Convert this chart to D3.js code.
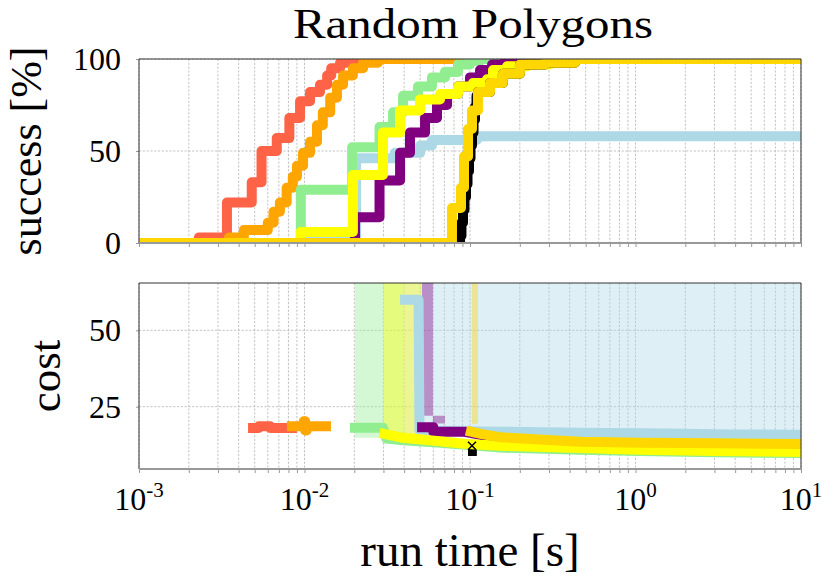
<!DOCTYPE html>
<html>
<head>
<meta charset="utf-8">
<script src="https://cdn.jsdelivr.net/npm/d3@7"></script>
<style>
	body { margin: 0; background: #fff; }
</style>
</head>
<body>
<div id="chart"></div>
<script>
/*
Random Polygons: success rate and solution cost over run time
*/

// ---------- success [%] over run time (top panel) ----------
const lightblueTime    = [0.001, 0.0098, 0.0205, 0.0352, 0.0500, 0.0589, 0.110, 10];
const lightblueSuccess = [0, 2, 46, 49, 53, 56, 58, 58];

const tomatoTime    = [0.001, 0.0023, 0.0034, 0.0048, 0.0055, 0.0068, 0.0081, 0.0094, 0.0108, 0.0124, 0.0137, 0.0145, 0.0164, 0.0181, 10];
const tomatoSuccess = [0, 3, 22, 33, 50, 57, 68, 77, 82, 86, 91, 95, 98, 100, 100];

const orangeTime    = [0.001, 0.0035, 0.0043, 0.0060, 0.0065, 0.0071, 0.0078, 0.0085, 0.0090, 0.0098, 0.0108, 0.0119, 0.0129, 0.0143, 0.0157, 0.0171, 0.0196, 0.0226, 0.0278, 10];
const orangeSuccess = [0, 3, 7, 11, 17, 22, 30, 36, 42, 49, 55, 64, 71, 79, 86, 91, 95, 98, 100, 100];

const lightgreenTime    = [0.001, 0.0095, 0.0194, 0.0284, 0.0343, 0.0394, 0.0485, 0.0589, 0.0706, 0.0846, 0.100, 0.115, 10];
const lightgreenSuccess = [0, 29, 52, 63, 71, 80, 85, 90, 93, 97, 99, 100, 100];

const purpleTime    = [0.001, 0.0202, 0.0284, 0.0378, 0.0434, 0.0535, 0.0632, 0.0727, 0.0846, 0.100, 0.115, 0.136, 0.1625, 10];
const purpleSuccess = [0, 14, 34, 49, 60, 68, 75, 81, 85, 90, 94, 97, 100, 100];

const yellowTime    = [0.001, 0.0095, 0.0196, 0.0298, 0.0378, 0.0499, 0.0659, 0.0846, 0.1042, 0.1267, 0.1377, 0.1675, 0.2209, 0.304, 0.430, 10];
const yellowSuccess = [0, 6, 37, 60, 72, 78, 81, 85, 87, 89, 94, 96, 97, 98, 100, 100];

const blackTime    = [0.001, 0.0871, 0.0888, 0.0907, 0.0926, 0.0946, 0.0966, 0.0986, 0.1007, 0.1028, 0.1050, 0.1072, 0.1095, 0.1117, 0.1321, 0.158, 0.2003, 0.2838, 0.4305, 10];
const blackSuccess = [0, 4, 11, 18, 25, 32, 39, 46, 53, 60, 67, 74, 80, 82, 87, 92, 97, 98, 100, 100];

const goldTime    = [0.001, 0.0778, 0.0882, 0.0920, 0.0973, 0.1028, 0.1117, 0.1321, 0.158, 0.2003, 0.2838, 0.4305, 10];
const goldSuccess = [0, 19, 30, 47, 62, 72, 82, 87, 92, 97, 98, 100, 100];

// ---------- median cost over run time (bottom panel) ----------
const tomatoCostTime = [0.00456, 0.0053, 0.0053, 0.0062, 0.0062, 0.0090];
const tomatoCost     = [18, 18, 18.6, 18.6, 18, 18];

const orangeCostTime = [0.00783, 0.0099, 0.0099, 0.0101, 0.0101, 0.0103, 0.0103, 0.01445];
const orangeCost     = [18.6, 18.6, 20.2, 20.2, 17.2, 17.2, 18.6, 18.6];

const lightgreenCostTime = [0.0188, 0.0298, 0.0312, 0.0394, 0.0632, 0.1518, 0.462, 1.065, 3.0, 10];
const lightgreenCost     = [18.1, 18.1, 14.6, 14.0, 13.3, 11.6, 10.9, 10.5, 10.1, 9.8];

const lightblueCostTime = [0.0378, 0.0489, 0.0495, 0.0632, 0.15, 0.462, 1.5, 4, 10];
const lightblueCost     = [60, 60, 17.5, 17.1, 16.8, 16.5, 16.2, 15.9, 15.8];

const purpleCostTime = [0.0479, 0.0600, 0.0600, 0.0930, 0.15, 0.462, 1.5, 10];
const purpleCost     = [18.3, 18.3, 16.8, 16.8, 14.6, 13.2, 12.9, 12.5];

const yellowCostTime = [0.0284, 0.0394, 0.0632, 0.0957, 0.1518, 0.462, 1.065, 3.0, 10];
const yellowCost     = [16.4, 14.8, 13.8, 12.8, 12.2, 11.5, 10.9, 10.5, 10.2];

const blackCostTime = [0.0973, 0.110];
const blackCost     = [10.5, 10.5];
const blackMarker   = [0.1028, 12.2];

const goldCostTime = [0.0946, 0.1182, 0.1518, 0.462, 1.065, 3.0, 10];
const goldCost     = [17.2, 16.0, 15.0, 13.5, 13.2, 13.0, 12.8];

// cost spread (shaded bands), upper bound runs off the top of the axis
const lightblueBandTime = [0.0394, 10];
const lightblueBandLow  = [15.5, 15.0];
const lightblueBandHigh = [70, 70];

const lightgreenBandTime = [0.0202, 0.0394];
const lightgreenBandLow  = [14.8, 14.8];
const lightgreenBandHigh = [70, 70];

const purpleBandTime = [0.0513, 0.0597, 0.0597, 0.0705];
const purpleBandLow  = [22, 22, 19.5, 19.5];
const purpleBandHigh = [70, 70, 22, 22];

const yellowBandTime = [0.0298, 0.0513];
const yellowBandLow  = [15.5, 15.5];
const yellowBandHigh = [70, 70];

const goldBandTime = [0.1028, 0.1117];
const goldBandLow  = [19.4, 19.4];
const goldBandHigh = [70, 70];

// axis ticks
const successTicks = [0, 50, 100];
const costTicks = [25, 50];
const decadeExponents = [-3, -2, -1, 0, 1];

// ---------------------------------------------------------------

const FONT = "'Liberation Serif', 'DejaVu Serif', 'Times New Roman', serif";

const zip = (xs, ys) => xs.map((x, i) => ({t: x, v: ys[i]}));

const successSeries = [
	{color: "lightblue",  pts: zip(lightblueTime, lightblueSuccess)},
	{color: "tomato",     pts: zip(tomatoTime, tomatoSuccess)},
	{color: "orange",     pts: zip(orangeTime, orangeSuccess)},
	{color: "lightgreen", pts: zip(lightgreenTime, lightgreenSuccess)},
	{color: "purple",     pts: zip(purpleTime, purpleSuccess)},
	{color: "yellow",     pts: zip(yellowTime, yellowSuccess)},
	{color: "black",      pts: zip(blackTime, blackSuccess)},
	{color: "gold",       pts: zip(goldTime, goldSuccess)}
];

const costSeries = [
	{color: "lightblue",  pts: zip(lightblueCostTime, lightblueCost)},
	{color: "tomato",     pts: zip(tomatoCostTime, tomatoCost)},
	{color: "orange",     pts: zip(orangeCostTime, orangeCost)},
	{color: "lightgreen", pts: zip(lightgreenCostTime, lightgreenCost)},
	{color: "purple",     pts: zip(purpleCostTime, purpleCost)},
	{color: "black",      pts: zip(blackCostTime, blackCost)},
	{color: "yellow",     pts: zip(yellowCostTime, yellowCost)},
	{color: "gold",       pts: zip(goldCostTime, goldCost)}
];

const costBands = [
	{color: "lightblue",  t: lightblueBandTime,  lo: lightblueBandLow,  hi: lightblueBandHigh},
	{color: "lightgreen", t: lightgreenBandTime, lo: lightgreenBandLow, hi: lightgreenBandHigh},
	{color: "purple",     t: purpleBandTime,     lo: purpleBandLow,     hi: purpleBandHigh},
	{color: "yellow",     t: yellowBandTime,     lo: yellowBandLow,     hi: yellowBandHigh},
	{color: "gold",       t: goldBandTime,       lo: goldBandLow,       hi: goldBandHigh}
];

// Layout
const width = 831, height = 588;
const left = 139, right = 801;
const topPanel = {top: 59, bottom: 243};
const bottomPanel = {top: 283, bottom: 469};

const svg = d3.select("#chart").append("svg")
	.attr("width", width)
	.attr("height", height)
	.style("font-family", FONT);

const x = d3.scaleLog().domain([1e-3, 1e1]).range([left, right]);
const ySuccess = d3.scaleLinear().domain([0, 100]).range([topPanel.bottom, topPanel.top]);
const yCost = d3.scaleLinear().domain([4.6, 65.5]).range([bottomPanel.bottom, bottomPanel.top]);

// draws grid, ticks and spines of one panel, returns clipped group for marks
function drawPanel(panel, y, yTicks, id){
	const g = svg.append("g");

	// grid
	g.append("g").selectAll("line")
		.data(x.ticks())
		.enter().append("line")
		.attr("x1", d => x(d)).attr("x2", d => x(d))
		.attr("y1", panel.top).attr("y2", panel.bottom)
		.attr("stroke", "#b4b4b4").attr("stroke-width", 0.8)
		.attr("stroke-dasharray", "2.2,1.6");

	g.append("g").selectAll("line")
		.data(yTicks)
		.enter().append("line")
		.attr("x1", left).attr("x2", right)
		.attr("y1", d => y(d)).attr("y2", d => y(d))
		.attr("stroke", "#b4b4b4").attr("stroke-width", 0.8)
		.attr("stroke-dasharray", "2.2,1.6");

	svg.append("clipPath").attr("id", id)
		.append("rect")
		.attr("x", left).attr("y", panel.top)
		.attr("width", right - left).attr("height", panel.bottom - panel.top);

	const marks = svg.append("g").attr("clip-path", "url(#" + id + ")");

	// tick marks on x and y
	const frame = svg.append("g");
	frame.append("g")
		.attr("transform", "translate(0," + panel.bottom + ")")
		.call(d3.axisBottom(x).tickValues(x.ticks()).tickFormat("").tickSizeInner(4).tickSizeOuter(0))
		.call(a => a.select(".domain").remove())
		.call(a => a.selectAll("line").attr("stroke", "#999"));

	frame.append("g")
		.attr("transform", "translate(" + left + ",0)")
		.call(d3.axisLeft(y).tickValues(yTicks).tickFormat("").tickSizeInner(3).tickSizeOuter(0))
		.call(a => a.select(".domain").remove())
		.call(a => a.selectAll("line").attr("stroke", "#999"));

	// y tick labels
	frame.selectAll(".ylab")
		.data(yTicks)
		.enter().append("text")
		.attr("class", "ylab")
		.attr("x", 121)
		.attr("y", d => y(d) + 11)
		.attr("text-anchor", "end")
		.style("font-family", FONT)
		.style("font-size", "32px")
		.text(d => d);

	// spines
	frame.append("path")
		.attr("d", "M" + left + "," + panel.bottom + "V" + panel.top + "H" + right + "V" + panel.bottom)
		.attr("fill", "none").attr("stroke", "#333").attr("stroke-width", 1);
	frame.append("line")
		.attr("x1", left).attr("x2", right)
		.attr("y1", panel.bottom).attr("y2", panel.bottom)
		.attr("stroke", "#999").attr("stroke-width", 2);

	return {marks: marks, frame: frame};
}

const upperPanel = drawPanel(topPanel, ySuccess, successTicks, "clipTop");
const lowerPanel = drawPanel(bottomPanel, yCost, costTicks, "clipBottom");

// success curves
const stepLine = d3.line().x(d => x(d.t)).y(d => ySuccess(d.v)).curve(d3.curveStepAfter);

upperPanel.marks.selectAll(".success")
	.data(successSeries)
	.enter().append("path")
	.attr("class", "success")
	.attr("d", d => stepLine(d.pts))
	.attr("fill", "none")
	.attr("stroke", d => d.color)
	.attr("stroke-width", 10)
	.attr("stroke-linejoin", "round");

// cost bands
const band = d3.area()
	.x(d => d.x)
	.y0(d => d.y0)
	.y1(d => d.y1);

lowerPanel.marks.selectAll(".band")
	.data(costBands)
	.enter().append("path")
	.attr("class", "band")
	.attr("d", d => band(d.t.map((t, i) => ({x: x(t), y0: yCost(d.lo[i]), y1: yCost(d.hi[i])}))))
	.attr("fill", d => d.color)
	.attr("fill-opacity", 0.4);

// cost lines
const costLine = d3.line().x(d => x(d.t)).y(d => yCost(d.v));

lowerPanel.marks.selectAll(".cost")
	.data(costSeries)
	.enter().append("path")
	.attr("class", "cost")
	.attr("d", d => costLine(d.pts))
	.attr("fill", "none")
	.attr("stroke", d => d.color)
	.attr("stroke-width", 10)
	.attr("stroke-linejoin", "round");

// black marker
const mx = x(blackMarker[0]), my = yCost(blackMarker[1]);
lowerPanel.marks.append("path")
	.attr("d", "M" + (mx - 4) + "," + (my - 4) + "L" + (mx + 4) + "," + (my + 4) +
	           "M" + (mx - 4) + "," + (my + 4) + "L" + (mx + 4) + "," + (my - 4))
	.attr("stroke", "black").attr("stroke-width", 1.5);

// x tick labels (bottom panel only)
const xl = lowerPanel.frame.selectAll(".xlab")
	.data(decadeExponents)
	.enter().append("text")
	.attr("class", "xlab")
	.attr("x", d => x(Math.pow(10, d)))
	.attr("y", 510)
	.attr("text-anchor", "middle")
	.style("font-family", FONT)
	.style("font-size", "32px");
xl.append("tspan").text("10");
xl.append("tspan")
	.attr("dy", -13)
	.style("font-size", "21px")
	.text(d => d < 0 ? "-" + (-d) : d);

// Title and axis labels
svg.append("text")
	.attr("x", 473).attr("y", 38)
	.attr("text-anchor", "middle")
	.attr("textLength", 360)
	.attr("lengthAdjust", "spacingAndGlyphs")
	.style("font-family", FONT)
	.style("font-size", "42px")
	.text("Random Polygons");

svg.append("text")
	.attr("transform", "translate(41," + (topPanel.top + topPanel.bottom) / 2 + ") rotate(-90)")
	.attr("text-anchor", "middle")
	.style("font-family", FONT)
	.style("font-size", "44px")
	.text("success [%]");

svg.append("text")
	.attr("transform", "translate(60," + (bottomPanel.top + bottomPanel.bottom) / 2 + ") rotate(-90)")
	.attr("text-anchor", "middle")
	.style("font-family", FONT)
	.style("font-size", "45px")
	.text("cost");

svg.append("text")
	.attr("x", 470).attr("y", 566)
	.attr("text-anchor", "middle")
	.style("font-family", FONT)
	.style("font-size", "47px")
	.text("run time [s]");
</script>
</body>
</html>
